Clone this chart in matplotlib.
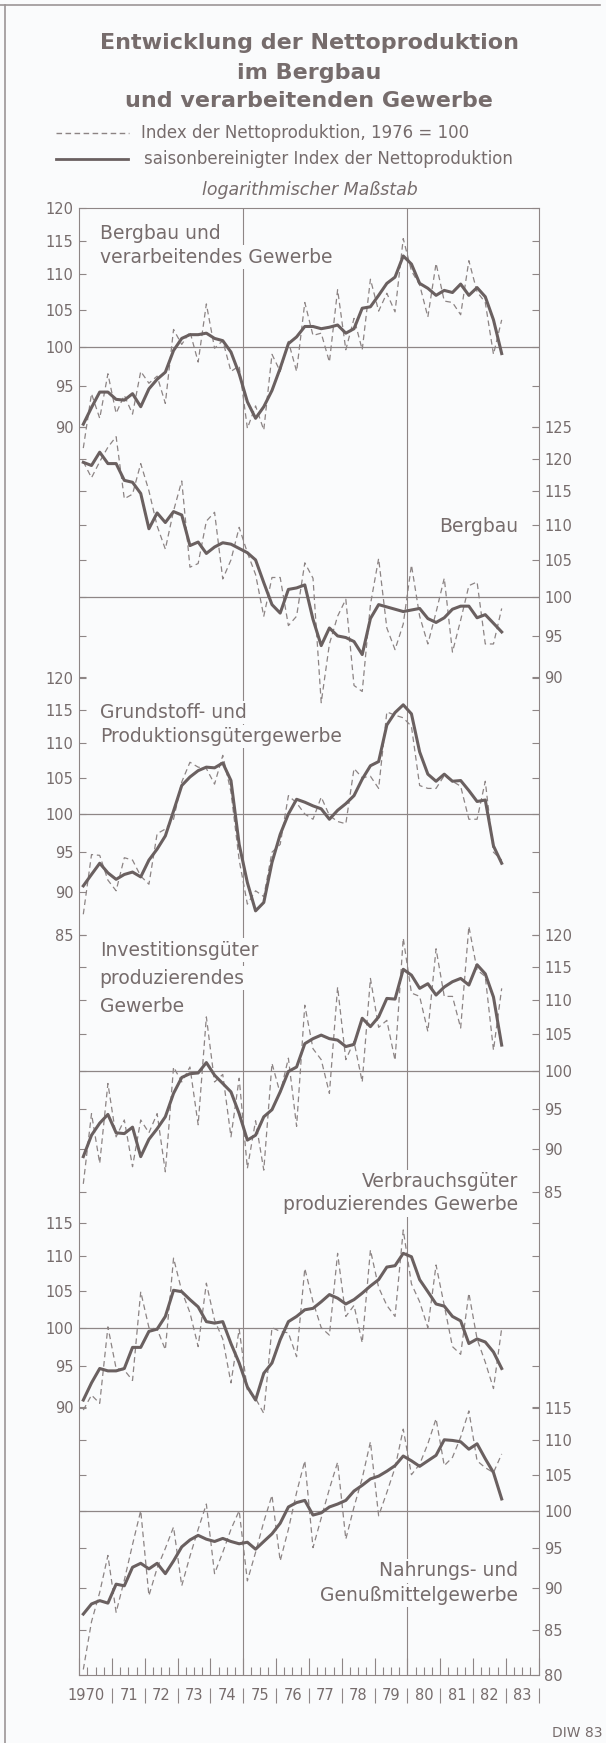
import numpy as np
import matplotlib
matplotlib.use("Agg")
import matplotlib.pyplot as plt
from matplotlib.ticker import FixedLocator, NullLocator, FuncFormatter

# ------------------------------------------------------------------
# DATA (quarterly, 1970 Q1 .. 1982 Q4)
# ------------------------------------------------------------------
gesamt_index = [87.5, 94.0, 91.0, 96.5, 91.6, 93.8, 91.5, 96.8, 95.3, 96.2, 92.8, 102.3,
                100.3, 102.0, 98.0, 105.8, 99.8, 100.8, 96.8, 97.5, 89.8, 92.5, 89.6, 99.0,
                96.8, 100.7, 96.8, 106.0, 101.5, 101.8, 98.0, 107.8, 99.6, 103.8, 99.6, 109.3,
                104.8, 107.3, 104.7, 115.3, 110.5, 108.5, 104.0, 111.6, 106.2, 106.0, 104.3, 112.0,
                107.5, 106.0, 99.0, 103.6]
gesamt_sb = [90.3, 92.3, 94.2, 94.2, 93.3, 93.2, 94.0, 92.4, 94.6, 95.8, 96.7, 99.5,
             101.1, 101.6, 101.6, 101.8, 101.1, 100.8, 99.3, 96.5, 93.0, 91.0, 92.4, 94.4,
             97.2, 100.4, 101.3, 102.7, 102.7, 102.4, 102.6, 102.9, 101.8, 102.4, 105.2, 105.4,
             107.0, 108.7, 109.6, 112.7, 111.5, 108.7, 108.0, 107.0, 107.7, 107.4, 108.6, 107.0,
             108.1, 106.8, 103.6, 99.1]

bergbau_index = [119.5, 117.0, 119.5, 121.8, 123.5, 113.8, 114.5, 119.2, 115.0, 109.8, 106.5, 112.0,
                 116.5, 104.0, 104.5, 110.5, 111.8, 102.4, 105.0, 109.6, 106.0, 103.0, 97.5, 102.6,
                 102.6, 96.3, 97.5, 104.6, 102.5, 87.0, 94.0, 97.5, 99.7, 89.0, 88.3, 99.0,
                 105.2, 96.0, 93.3, 96.5, 104.3, 97.5, 94.0, 98.0, 102.5, 93.0, 97.0, 101.5,
                 102.0, 94.0, 94.0, 98.5]
bergbau_sb = [119.4, 118.9, 121.0, 119.2, 119.2, 116.6, 116.3, 114.6, 109.4, 111.7, 110.3, 111.9,
              111.4, 107.0, 107.5, 105.9, 106.8, 107.4, 107.2, 106.6, 106.0, 105.0, 101.9, 99.0,
              97.9, 101.0, 101.2, 101.6, 97.1, 93.8, 96.0, 95.0, 94.8, 94.3, 92.7, 97.2,
              99.0, 98.7, 98.4, 98.1, 98.3, 98.5, 97.2, 96.7, 97.3, 98.4, 98.8, 98.8,
              97.3, 97.7, 96.6, 95.5]

grund_index = [87.4, 94.7, 94.6, 91.5, 90.2, 94.3, 94.0, 92.0, 91.0, 97.4, 98.0, 99.3,
               104.4, 107.2, 106.5, 106.3, 104.1, 108.2, 103.0, 94.0, 88.6, 90.2, 89.5, 95.0,
               96.0, 102.5, 101.5, 100.0, 99.3, 102.3, 99.8, 99.0, 98.7, 106.3, 105.0, 105.2,
               103.5, 114.7, 114.2, 113.8, 112.5, 103.9, 103.5, 103.5, 105.3, 104.5, 103.8, 99.3,
               99.3, 104.5, 95.0, 94.0]
grund_sb = [90.8, 92.2, 93.6, 92.4, 91.6, 92.2, 92.5, 91.9, 94.0, 95.4, 97.1, 100.4,
            103.9, 105.1, 106.0, 106.5, 106.4, 107.1, 104.6, 96.0, 91.2, 87.8, 88.8, 93.7,
            97.3, 100.0, 102.0, 101.6, 101.1, 100.7, 99.3, 100.5, 101.4, 102.5, 104.8, 106.7,
            107.3, 112.7, 114.6, 115.8, 114.4, 108.7, 105.5, 104.5, 105.5, 104.5, 104.6, 103.2,
            101.7, 101.9, 95.8, 93.6]

invest_index = [85.9, 94.4, 88.3, 98.3, 91.5, 93.6, 87.9, 93.6, 92.0, 94.4, 87.3, 100.5,
                98.5, 100.5, 93.0, 107.5, 98.5, 99.5, 91.5, 99.0, 87.7, 93.5, 87.5, 101.0,
                97.0, 101.7, 92.8, 109.2, 103.0, 101.5, 97.0, 111.9, 101.5, 104.0, 98.5, 113.2,
                106.0, 107.0, 101.4, 119.5, 111.0, 110.5, 105.4, 117.8, 110.5, 110.5, 105.9, 121.4,
                114.5, 113.5, 102.8, 111.7]
invest_sb = [89.1, 91.7, 93.2, 94.3, 92.0, 91.9, 92.7, 89.1, 91.2, 92.5, 94.0, 97.0,
             99.1, 99.6, 99.7, 101.1, 99.4, 98.3, 97.2, 94.4, 91.1, 91.7, 94.0, 94.9,
             97.2, 99.9, 100.5, 103.7, 104.4, 104.9, 104.4, 104.2, 103.3, 103.6, 107.3, 106.1,
             107.5, 110.2, 110.1, 114.6, 113.7, 111.7, 112.4, 110.7, 111.9, 112.7, 113.2, 112.2,
             115.3, 113.9, 110.4, 103.5]

verbrauch_index = [89.6, 91.4, 90.4, 100.1, 94.7, 94.5, 93.2, 104.9, 100.0, 99.8, 97.1, 109.7,
                   105.0, 102.0, 97.5, 106.1, 101.0, 98.5, 92.9, 99.8, 92.0, 91.0, 89.2, 100.0,
                   99.5, 99.3, 96.2, 108.2, 103.5, 100.0, 99.0, 110.4, 101.5, 103.0, 98.0, 110.9,
                   105.5, 103.0, 101.5, 113.9, 106.0, 103.5, 100.0, 108.7, 103.0, 97.5, 96.5, 104.7,
                   98.5, 95.5, 92.2, 99.9]
verbrauch_sb = [90.8, 92.9, 94.7, 94.4, 94.4, 94.7, 97.4, 97.4, 99.5, 99.8, 101.5, 105.1,
                104.9, 103.8, 102.8, 100.8, 100.6, 100.8, 97.9, 95.4, 92.4, 90.8, 94.1, 95.4,
                98.4, 100.8, 101.5, 102.4, 102.6, 103.5, 104.5, 104.0, 103.2, 103.8, 104.7, 105.7,
                106.6, 108.4, 108.6, 110.4, 109.9, 106.6, 104.9, 103.2, 102.9, 101.5, 100.9, 97.9,
                98.5, 98.1, 96.8, 94.7]

nahrung_index = [80.6, 86.0, 89.5, 94.1, 87.1, 91.0, 95.5, 100.0, 89.1, 92.5, 95.0, 97.8,
                 90.3, 94.0, 97.5, 100.9, 91.8, 94.5, 97.5, 100.0, 90.9, 94.5, 98.5, 102.1,
                 93.4, 97.5, 102.5, 107.0, 95.1, 99.0, 103.0, 106.8, 96.2, 100.5, 104.5, 109.8,
                 99.3, 102.5, 106.0, 111.7, 105.0, 106.5, 109.5, 113.3, 106.3, 107.5, 110.5, 114.5,
                 107.0, 106.0, 105.3, 108.0]
nahrung_sb = [86.9, 88.1, 88.5, 88.2, 90.5, 90.3, 92.6, 93.1, 92.4, 93.1, 91.8, 93.4,
              95.2, 96.1, 96.7, 96.2, 95.9, 96.3, 95.9, 95.6, 95.8, 94.9, 95.9, 96.9,
              98.3, 100.5, 101.1, 101.4, 99.4, 99.7, 100.5, 100.9, 101.4, 102.7, 103.5, 104.4,
              104.8, 105.5, 106.3, 107.7, 107.0, 106.2, 107.0, 107.8, 110.1, 110.0, 109.8, 108.7,
              109.5, 107.3, 105.3, 101.6]

years = list(range(1970, 1985))
year_labels = ["1970", "71", "72", "73", "74", "75", "76", "77", "78", "79", "80", "81", "82", "83"]
quarters = 1970.125 + 0.25 * np.arange(len(gesamt_sb))

# ------------------------------------------------------------------
# STYLE / LAYOUT (pixel based, figure is 606 x 1743)
# ------------------------------------------------------------------
W, H = 606, 1743
BG = "#fafbfc"
TXT = "#766c6c"
AX = "#8e8686"
SOLID = "#6a6060"
DASH = "#8c8484"
X0, X1 = 79.2, 538.6

fig = plt.figure(figsize=(W / 100, H / 100), dpi=100, facecolor=BG)

# overlay in pixel coordinates (titles, legend, frame)
ov = fig.add_axes([0, 0, 1, 1])
ov.set_xlim(0, W)
ov.set_ylim(H, 0)
ov.axis("off")


def px_axes(left, top, right, bottom):
    return fig.add_axes([left / W, 1 - bottom / H, (right - left) / W, (bottom - top) / H])


# outer frame of the figure
ov.plot([0, 600], [5, 5], color="#9c9696", lw=1.2, clip_on=False)
ov.plot([5, 5], [5, H], color="#9c9696", lw=1.2, clip_on=False)

# title
ov.text(309, 43, "Entwicklung der Nettoproduktion", ha="center", va="center",
        fontsize=16, fontweight="bold", color=TXT)
ov.text(309, 73, "im Bergbau", ha="center", va="center",
        fontsize=16, fontweight="bold", color=TXT)
ov.text(309, 101, "und verarbeitenden Gewerbe", ha="center", va="center",
        fontsize=16, fontweight="bold", color=TXT)

# legend
ov.plot([56, 129], [133, 133], color=DASH, lw=1.0, ls=(0, (4, 2.5)))
ov.text(141, 133, "Index der Nettoproduktion, 1976 = 100", ha="left", va="center",
        fontsize=12, color=TXT)
ov.plot([56, 128], [159, 159], color=SOLID, lw=2.0)
ov.text(144, 159, "saisonbereinigter Index der Nettoproduktion", ha="left", va="center",
        fontsize=12, color=TXT)
ov.text(310, 190, "logarithmischer Maßstab", ha="center", va="center",
        fontsize=12.5, style="italic", color=TXT)

ov.text(603, 1733, "DIW 83", ha="right", va="center", fontsize=10, color=TXT)

# ------------------------------------------------------------------
# common frame: x axis, grid lines at 1975 / 1980
# ------------------------------------------------------------------
ax0 = px_axes(X0, 208.3, X1, 1675)
ax0.patch.set_visible(False)
ax0.set_xlim(1970, 1984)
ax0.set_ylim(0, 1)
for s in ax0.spines.values():
    s.set_color(AX)
    s.set_linewidth(0.8)
ax0.set_yticks([])
ax0.set_xticks(years)
ax0.set_xticks([y + q for y in range(1970, 1984) for q in (0.25, 0.5, 0.75)], minor=True)
ax0.tick_params(axis="x", which="major", direction="in", length=12, width=0.8,
                color=AX, labelbottom=False)
ax0.tick_params(axis="x", which="minor", direction="in", length=6, width=0.8, color=AX)
for yr in (1975, 1980):
    ax0.axvline(yr, color=AX, lw=0.8, zorder=1)

xt = ax0.get_xaxis_transform()
ax0.vlines(years[1:], -0.0192, -0.0089, transform=xt, colors=AX, lw=0.8, clip_on=False)
for yr, lab in zip(years[:-1], year_labels):
    ax0.text(yr + 1 - 0.21, -0.0138, lab, transform=xt, ha="right", va="center",
             fontsize=10.5, color=TXT)

# panel titles (white box hides the grid lines behind them)
box = dict(facecolor=BG, edgecolor="none", pad=1.5)
panel_texts = [
    (99.7, 233, "Bergbau und", "left"),
    (99.7, 257, "verarbeitendes Gewerbe", "left"),
    (518, 526, "Bergbau", "right"),
    (99.7, 712.5, "Grundstoff- und", "left"),
    (99.7, 736.5, "Produktionsgütergewerbe", "left"),
    (99.7, 950, "Investitionsgüter", "left"),
    (99.7, 978, "produzierendes", "left"),
    (99.7, 1006, "Gewerbe", "left"),
    (518, 1181.5, "Verbrauchsgüter", "right"),
    (518, 1205, "produzierendes Gewerbe", "right"),
    (518, 1571, "Nahrungs- und", "right"),
    (518, 1595.5, "Genußmittelgewerbe", "right"),
]
for x, y, s, ha in panel_texts:
    ax0.text(x, y, s, transform=ov.transData, ha=ha, va="center", fontsize=13.5,
             color=TXT, bbox=box, zorder=4)

# ------------------------------------------------------------------
# the six log-scaled panels
# ------------------------------------------------------------------
panels = [
    (gesamt_index, gesamt_sb, 90, 120, 208.3, 426.7, "left"),
    (bergbau_index, bergbau_sb, 90, 125, 427.5, 677.0, "right"),
    (grund_index, grund_sb, 85, 120, 678.3, 935.0, "left"),
    (invest_index, invest_sb, 85, 120, 935.0, 1191.7, "right"),
    (verbrauch_index, verbrauch_sb, 90, 115, 1222.7, 1406.7, "left"),
    (nahrung_index, nahrung_sb, 80, 115, 1407.7, 1675.0, "right"),
]

for idx, sb, lo, hi, top, bot, side in panels:
    ax = px_axes(X0, top, X1, bot)
    ax.patch.set_visible(False)
    for s in ax.spines.values():
        s.set_visible(False)
    ax.set_xlim(1970, 1984)
    ax.set_yscale("log")
    ax.set_ylim(lo, hi)
    ax.xaxis.set_visible(False)
    ax.yaxis.set_major_locator(FixedLocator(list(range(lo, hi + 1, 5))))
    ax.yaxis.set_minor_locator(NullLocator())
    ax.yaxis.set_major_formatter(FuncFormatter(lambda v, p: f"{v:.0f}"))
    ax.tick_params(axis="y", which="major", direction="in", length=5, width=0.8,
                   color=AX, labelcolor=TXT, labelsize=10.5, pad=4,
                   left=True, right=True,
                   labelleft=(side == "left"), labelright=(side == "right"))
    ax.axhline(100, color=AX, lw=0.9, zorder=1)
    ax.plot(quarters, idx, color=DASH, lw=0.9, ls=(0, (4.5, 3)), clip_on=False, zorder=2)
    ax.plot(quarters, sb, color=SOLID, lw=2.2, clip_on=False, zorder=3,
            solid_joinstyle="round")

fig.savefig("out.png", dpi=100, facecolor=BG)
